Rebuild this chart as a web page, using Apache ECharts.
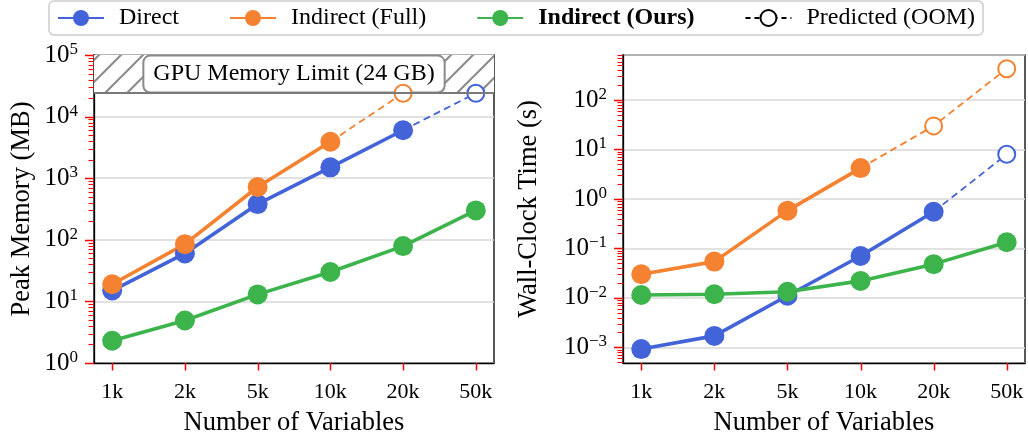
<!DOCTYPE html>
<html><head><meta charset="utf-8">
<script src="https://cdn.jsdelivr.net/npm/echarts@6/dist/echarts.min.js"></script>
<style>html,body{margin:0;padding:0;background:#fff}#c{width:1028px;height:435px}</style>
</head><body><div id="c"></div>
<script>
// ---- data ----
var categories = ['1k', '2k', '5k', '10k', '20k', '50k'];
var seriesNames = ['Direct', 'Indirect (Full)', 'Indirect (Ours)', 'Predicted (OOM)'];
// Peak memory (MB)
var memDirect     = [15, 60, 380, 1500, 6000, null];
var memDirectPred = [null, null, null, null, null, 24000];
var memFull       = [19, 85, 720, 3900, null, null];
var memFullPred   = [null, null, null, null, 24000, null];
var memOurs       = [2.3, 4.9, 13, 30, 79, 300];
// Wall-clock time (s)
var timeDirect     = [0.00092, 0.0017, 0.011, 0.07, 0.55, null];
var timeDirectPred = [null, null, null, null, null, 8.0];
var timeFull       = [0.030, 0.054, 0.58, 4.2, null, null];
var timeFullPred   = [null, null, null, null, 30, 430];
var timeOurs       = [0.0114, 0.0118, 0.0133, 0.022, 0.048, 0.133];
var gpuLimitMB = 24000;
var memDecades = [0, 1, 2, 3, 4, 5];
var timeDecades = [-3, -2, -1, 0, 1, 2];

// ---- styling ----
var FONT = 'Liberation Serif';
var C = {blue: '#4363d8', orange: '#f58231', green: '#3cb44b'};
var TICK = 'red';
var L = Math.log10;
var memRange = [0, 5];
var timeRange = [-3.318, 2.911];
var X0 = -0.25, X1 = 5.25;
var xIdx = [0, 1, 2, 3, 4, 5];

function minorTicks(lo, hi) {
  var out = [];
  for (var n = Math.floor(lo) - 1; n <= Math.ceil(hi); n++) {
    for (var k = 2; k <= 9; k++) {
      var v = n + L(k);
      if (v > lo && v < hi) out.push(v);
    }
  }
  return out;
}
function supLabel(v) {
  var e = Math.round(v);
  var s = e < 0 ? '\u2212' + (-e) : '' + e;
  return '{b|10}{s|' + s + '}';
}
var richY = {
  b: {fontFamily: FONT, fontSize: 25, color: '#000', lineHeight: 28},
  s: {fontFamily: FONT, fontSize: 17, color: '#000', verticalAlign: 'top', lineHeight: 17}
};

function solid(name, arr, xi) {
  var d = [];
  arr.forEach(function (v, i) { if (v != null) d.push([i, L(v)]); });
  return {
    name: name, type: 'line', xAxisIndex: xi, yAxisIndex: xi, data: d,
    color: C[name === 'Direct' ? 'blue' : name === 'Indirect (Full)' ? 'orange' : 'green'],
    symbol: 'circle', symbolSize: 20, lineStyle: {width: 3.6}, z: 3, animation: false
  };
}
function dashed(name, meas, pred, xi, color) {
  var d = [];
  var last = -1;
  meas.forEach(function (v, i) { if (v != null) last = i; });
  if (last >= 0 && pred[last + 1] != null) d.push({value: [last, L(meas[last])], symbol: 'none'});
  pred.forEach(function (v, i) { if (v != null) d.push({value: [i, L(v)], symbol: 'emptyCircle'}); });
  return {
    name: name + '_pred', type: 'line', xAxisIndex: xi, yAxisIndex: xi, data: d, color: color,
    symbolSize: 17, itemStyle: {borderWidth: 1.8},
    lineStyle: {width: 1.8, type: [7, 4.5]}, z: 2, animation: false
  };
}

// hatch pattern
var pc = document.createElement('canvas');
var S = 22; pc.width = S; pc.height = S;
var g = pc.getContext('2d');
g.fillStyle = '#fff'; g.fillRect(0, 0, S, S);
g.strokeStyle = '#8a8a8a'; g.lineWidth = 2;
[[-S, 0], [0, 0], [S, 0]].forEach(function (o) {
  g.beginPath(); g.moveTo(o[0] - 2, S + 2); g.lineTo(o[0] + S + 2, -2); g.stroke();
});

var grids = [
  {left: 94, top: 55, width: 400, height: 308},
  {left: 623, top: 55, width: 402, height: 308}
];
grids.forEach(function (gr) {
  gr.show = true; gr.borderColor = '#000'; gr.borderWidth = 1.3;
  gr.outerBoundsMode = 'none'; gr.containLabel = false;
});

function xAxis(gi) {
  return {
    type: 'value', gridIndex: gi, min: X0, max: X1,
    name: 'Number of Variables', nameLocation: 'middle', nameGap: 47,
    nameTextStyle: {fontFamily: FONT, fontSize: 26.5, color: '#000'},
    axisLine: {onZero: false, lineStyle: {color: '#000', width: 1.3}},
    axisTick: {show: false},
    axisLabel: {customValues: xIdx, margin: 18, fontFamily: FONT, fontSize: 22, color: '#000',
      formatter: function (v) { return categories[Math.round(v)]; }},
    splitLine: {show: false}
  };
}
function yAxis(gi, range, decades, name, gap) {
  return {
    type: 'value', gridIndex: gi, min: range[0], max: range[1], splitNumber: 6,
    name: name, nameLocation: 'middle', nameGap: gap,
    nameTextStyle: {fontFamily: FONT, fontSize: 26.5, color: '#000'},
    axisLine: {onZero: false, lineStyle: {color: '#000', width: 1.3}},
    axisTick: {show: false},
    axisLabel: {customValues: decades, margin: 16, formatter: supLabel, rich: richY},
    splitLine: {show: true, lineStyle: {color: '#d9d9d9', width: 1.6}}
  };
}

var series = [
  {name: 'Predicted (OOM)', type: 'line', data: [], xAxisIndex: 0, yAxisIndex: 0, color: '#000',
   symbol: 'emptyCircle', symbolSize: 16, itemStyle: {borderWidth: 1.8},
   lineStyle: {width: 1.8, type: [5, 4]}},
  solid('Direct', memDirect, 0),
  solid('Indirect (Full)', memFull, 0),
  solid('Indirect (Ours)', memOurs, 0),
  dashed('Direct', memDirect, memDirectPred, 0, C.blue),
  dashed('Indirect (Full)', memFull, memFullPred, 0, C.orange),
  solid('Direct', timeDirect, 1),
  solid('Indirect (Full)', timeFull, 1),
  solid('Indirect (Ours)', timeOurs, 1),
  dashed('Direct', timeDirect, timeDirectPred, 1, C.blue),
  dashed('Indirect (Full)', timeFull, timeFullPred, 1, C.orange),
  {name: 'limit', type: 'line', data: [], xAxisIndex: 0, yAxisIndex: 0, z: 5, silent: true,
   markArea: {silent: true,
     itemStyle: {color: {image: pc, repeat: 'repeat'}, borderWidth: 0},
     label: {show: true, position: 'inside', formatter: 'GPU Memory Limit (24 GB)', fontFamily: FONT, fontSize: 24,
       color: '#000', backgroundColor: '#fff', borderColor: '#8a8a8a', borderWidth: 2, borderRadius: 6,
       lineHeight: 26, padding: [5, 9, 4, 9]},
     data: [[{xAxis: X0, yAxis: L(gpuLimitMB)}, {xAxis: X1, yAxis: memRange[1]}]]},
   markLine: {silent: true, symbol: 'none', label: {show: false},
     lineStyle: {color: '#7a7a7a', width: 2, type: 'solid'},
     data: [{yAxis: L(gpuLimitMB)}]}}
];

var chart = echarts.init(document.getElementById('c'), null, {renderer: 'canvas'});
chart.setOption({
  animation: false,
  textStyle: {fontFamily: FONT},
  legend: {
    left: 49, top: 1, padding: [5, 8], itemGap: 50, itemWidth: 46, itemHeight: 20,
    borderColor: '#cccccc', borderWidth: 1.5, borderRadius: 5, backgroundColor: '#fff',
    textStyle: {fontFamily: FONT, fontSize: 24, color: '#000', padding: [0, 0, 0, 10]},
    data: [
      {name: 'Direct'}, {name: 'Indirect (Full)'},
      {name: 'Indirect (Ours)', textStyle: {fontWeight: 'bold'}},
      {name: 'Predicted (OOM)'}
    ]
  },
  grid: grids,
  xAxis: [xAxis(0), xAxis(1)],
  yAxis: [yAxis(0, memRange, memDecades, 'Peak Memory (MB)', 58),
          yAxis(1, timeRange, timeDecades, 'Wall-Clock Time (s)', 80)],
  series: series
});

// axis ticks (major + minor log ticks), placed through the axes' own scales
var ticks = [];
function tickLine(x1, y1, x2, y2, w) {
  ticks.push({type: 'line', silent: true, z: 100,
    shape: {x1: x1, y1: y1, x2: x2, y2: y2}, style: {stroke: TICK, lineWidth: w}});
}
[[0, memRange, memDecades], [1, timeRange, timeDecades]].forEach(function (a) {
  var gi = a[0];
  function px(x, y) { return chart.convertToPixel({gridIndex: gi}, [x, y]); }
  minorTicks(a[1][0], a[1][1]).forEach(function (v) {
    var p = px(X0, v); if (!p) return;
    var y = Math.round(p[1]) + 0.5;
    tickLine(p[0] - 5.5, y, p[0], y, 1.1);
  });
  a[2].forEach(function (v) {
    var p = px(X0, v); if (!p) return;
    var y = Math.round(p[1]) + 0.5;
    tickLine(p[0] - 9, y, p[0], y, 1.5);
  });
  xIdx.forEach(function (i) {
    var p = px(i, a[1][0]); if (!p) return;
    var x = Math.round(p[0]) + 0.5;
    tickLine(x, p[1], x, p[1] + 7.5, 1.5);
  });
});
chart.setOption({graphic: {elements: ticks}});
</script></body></html>
